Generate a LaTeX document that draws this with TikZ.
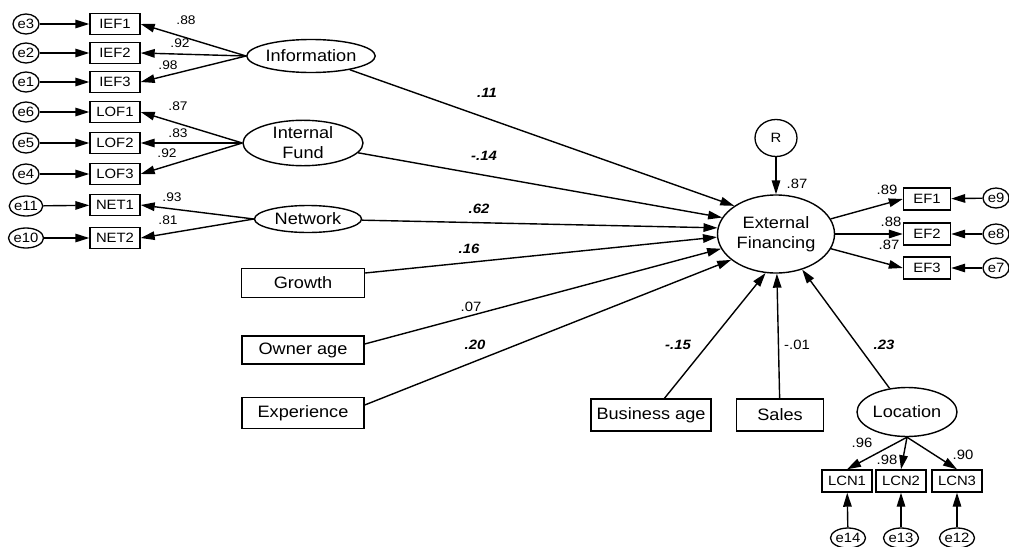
\documentclass[tikz,border=0pt]{standalone}
\usepackage{fontspec}
\setmainfont{Liberation Sans}[FakeStretch=1.1]
\usetikzlibrary{shapes.geometric,arrows.meta}
\begin{document}
\begin{tikzpicture}[x=1pt,y=-1pt,
  lat/.style={ellipse,draw,line width=1.4pt,inner sep=0pt,align=center,font=\fontsize{16.5}{20}\selectfont},
  big/.style={rectangle,draw,line width=1.4pt,inner sep=0pt,font=\fontsize{16.5}{19}\selectfont},
  ind/.style={rectangle,draw,line width=1.4pt,inner sep=0pt,minimum width=50pt,minimum height=21pt,font=\fontsize{13.5}{14}\selectfont},
  err/.style={ellipse,draw,line width=1.3pt,inner sep=0pt,minimum width=26pt,minimum height=20pt,font=\fontsize{13.5}{13.5}\selectfont},
  arr/.style={-{Triangle[length=14pt,width=8.5pt]},line width=1.4pt},
  path/.style={-{Triangle[length=14pt,width=8.5pt]},line width=1.4pt},
  cb/.style={inner sep=0pt,font=\fontsize{13.5}{14}\selectfont\bfseries\itshape},
  cn/.style={inner sep=0pt,font=\fontsize{13.5}{14}\selectfont},
  cs/.style={inner sep=0pt,font=\fontsize{12.5}{13}\selectfont}
]
\useasboundingbox (0,0) rectangle (1009,546);

% left indicators
\node[err] (e3) at (26,24) {e3};
\node[err] (e2) at (26,53) {e2};
\node[err] (e1) at (26,82) {e1};
\node[err] (e6) at (26,112) {e6};
\node[err] (e5) at (26,143) {e5};
\node[err] (e4) at (26,174) {e4};
\node[err] (e11) at (26,206) {e11};
\node[err] (e10) at (26,238) {e10};

\node[ind] (IEF1) at (115,24) {IEF1};
\node[ind] (IEF2) at (115,53) {IEF2};
\node[ind] (IEF3) at (115,82) {IEF3};
\node[ind] (LOF1) at (115,112) {LOF1};
\node[ind] (LOF2) at (115,143) {LOF2};
\node[ind] (LOF3) at (115,174) {LOF3};
\node[ind] (NET1) at (115,205) {NET1};
\node[ind] (NET2) at (115,238) {NET2};

\foreach \e/\b in {e3/IEF1,e2/IEF2,e1/IEF3,e6/LOF1,e5/LOF2,e4/LOF3,e11/NET1,e10/NET2}
  \draw[arr] (\e) -- (\b);

% latent left
\node[lat,minimum width=112pt,minimum height=33pt] (inf) at (311,56) {Information};
\node[lat,minimum width=120pt,minimum height=43pt] (intf) at (303,143) {Internal\\Fund};
\node[lat,minimum width=107pt,minimum height=27pt] (net) at (308,219) {Network};

\foreach \b in {IEF1,IEF2,IEF3} \draw[arr] (inf.west) -- (\b.east);
\foreach \b in {LOF1,LOF2,LOF3} \draw[arr] (intf.west) -- (\b.east);
\foreach \b in {NET1,NET2} \draw[arr] (net.west) -- (\b.east);

\node[cs] (l88) at (186,20) {.88};
\node[cs] (l92) at (180,43) {.92};
\node[cs] (l98) at (168,65) {.98};
\node[cs] (l87) at (178,106) {.87};
\node[cs] (l83) at (178,133) {.83};
\node[cs] (l92b) at (167,153) {.92};
\node[cs] (l93) at (172,197) {.93};
\node[cs] (l81) at (168,220) {.81};

% observed exogenous
\node[big,minimum width=123pt,minimum height=29pt] (growth) at (303,283) {Growth};
\node[big,minimum width=122pt,minimum height=28pt] (owner) at (303,350) {Owner age};
\node[big,minimum width=122pt,minimum height=31pt] (exper) at (303,413) {Experience};
\node[big,minimum width=120pt,minimum height=32pt] (bus) at (651,415) {Business age};
\node[big,minimum width=87pt,minimum height=32pt] (sales) at (780,415) {Sales};

% endogenous
\node[lat,minimum width=117pt,minimum height=78pt] (ext) at (776,234) {External\\Financing};
\node[err,minimum width=42pt,minimum height=37pt] (R) at (776,138) {R};
\draw[arr] (R) -- (ext);
\node[cn] (l87r) at (797,184) {.87};

\draw[path] (inf) -- (ext.146);
\draw[path] (intf) -- (ext.163);
\draw[path] (net) -- (ext.174);
\draw[path] ([yshift=10pt]growth.east) -- (ext.183);
\draw[path] ([yshift=6pt]owner.east) -- (ext.195);
\draw[path] ([yshift=8pt]exper.east) -- (ext.210);
\draw[path] (bus) -- (ext.255);
\draw[path] (sales) -- (ext);

\node[cb] (c11) at (487,93) {.11};
\node[cb] (c14) at (484,156) {-.14};
\node[cb] (c62) at (479,209) {.62};
\node[cb] (c16) at (469,249) {.16};
\node[cn] (c07) at (471,307) {.07};
\node[cb] (c20) at (475,345) {.20};
\node[cb] (c15) at (678,345) {-.15};
\node[cn] (c01) at (797,345) {-.01};
\node[cb] (c23) at (884,345) {.23};

% right indicators
\node[ind,minimum width=47pt,minimum height=22pt] (EF1) at (927,199) {EF1};
\node[ind,minimum width=47pt,minimum height=22pt] (EF2) at (927,234) {EF2};
\node[ind,minimum width=47pt,minimum height=22pt] (EF3) at (927,268) {EF3};
\node[err] (e9) at (996,198) {e9};
\node[err] (e8) at (996,234) {e8};
\node[err] (e7) at (996,268) {e7};
\foreach \b in {EF1,EF2,EF3} \draw[arr] (ext) -- (\b.west);
\foreach \e/\b in {e9/EF1,e8/EF2,e7/EF3} \draw[arr] (\e) -- (\b);
\node[cn] (l89) at (887,190) {.89};
\node[cn] (l88r) at (891,222) {.88};
\node[cn] (l87e) at (889,245) {.87};

% location
\node[lat,minimum width=100pt,minimum height=49pt] (loc) at (907,412) {Location};
\draw[path] (loc) -- (ext);
\node[ind,minimum height=22pt] (LCN1) at (847,481) {LCN1};
\node[ind,minimum height=22pt] (LCN2) at (901,481) {LCN2};
\node[ind,minimum height=22pt] (LCN3) at (957,481) {LCN3};
\foreach \b in {LCN1,LCN2,LCN3} \draw[arr] (loc.south) -- (\b.north);
\node[err] (e14) at (848,538) {e14};
\node[err] (e13) at (901,538) {e13};
\node[err] (e12) at (957,538) {e12};
\foreach \e/\b in {e14/LCN1,e13/LCN2,e12/LCN3} \draw[arr] (\e) -- (\b);
\node[cn] (l96) at (862,443) {.96};
\node[cn] (l98b) at (887,460) {.98};
\node[cn] (l90) at (963,455) {.90};
\end{tikzpicture}
\end{document}
